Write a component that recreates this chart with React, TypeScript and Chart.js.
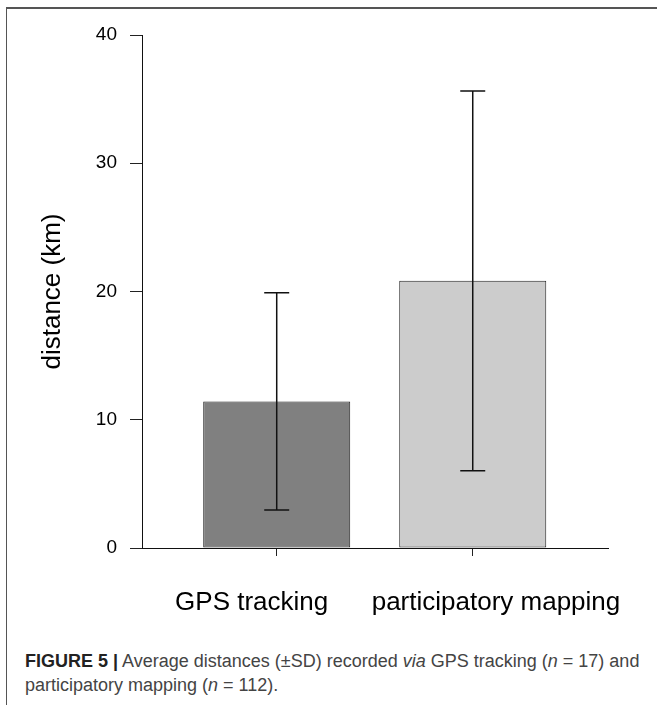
import React, { useEffect, useRef } from "react";
import { Chart, registerables } from "chart.js";

Chart.register(...registerables);

const categories: string[] = ["GPS tracking", "participatory mapping"];
const means: number[] = [11.43, 20.83];
const sds: number[] = [8.47, 14.8];
const barColors: string[] = ["#808080", "#cccccc"];
const yTicks: number[] = [0, 10, 20, 30, 40];

const errorBarPlugin = {
  id: "errorBars",
  afterDatasetsDraw(chart: any) {
    const { ctx } = chart;
    const yScale = chart.scales.y;
    const meta = chart.getDatasetMeta(0);
    ctx.save();
    ctx.strokeStyle = "#111";
    ctx.lineWidth = 1.5;
    meta.data.forEach((el: any, i: number) => {
      const x = el.x;
      const yHi = yScale.getPixelForValue(means[i] + sds[i]);
      const yLo = yScale.getPixelForValue(means[i] - sds[i]);
      const cap = 12.5;
      ctx.beginPath();
      ctx.moveTo(x, yHi);
      ctx.lineTo(x, yLo);
      ctx.moveTo(x - cap, yHi);
      ctx.lineTo(x + cap, yHi);
      ctx.moveTo(x - cap, yLo);
      ctx.lineTo(x + cap, yLo);
      ctx.stroke();
    });
    ctx.restore();
  },
};

export default function App() {
  const ref = useRef<HTMLCanvasElement | null>(null);

  useEffect(() => {
    if (!ref.current) return;
    const setTicks = (scale: any) => {
      scale.ticks = categories.map((_, i) => ({ value: i + 1 }));
    };
    const chart = new Chart(ref.current, {
      type: "bar",
      data: {
        datasets: [
          {
            xAxisID: "x",
            yAxisID: "y",
            data: categories.map((_, i) => ({ x: i + 1, y: means[i] })),
            backgroundColor: barColors,
            borderColor: "#222",
            borderWidth: 1,
            borderSkipped: false,
            categoryPercentage: 1,
            barPercentage: 0.75,
          },
        ],
      },
      options: {
        responsive: false,
        animation: false,
        events: [],
        layout: { padding: { top: 35, right: 49, left: 0, bottom: 0 } },
        plugins: {
          legend: { display: false },
          tooltip: { enabled: false },
        },
        scales: {
          x: {
            type: "linear",
            position: "bottom",
            weight: 1,
            offset: false,
            min: 0.3128,
            max: 2.69,
            afterBuildTicks: setTicks,
            afterFit: (s: any) => {
              s.height = 8;
            },
            ticks: { display: false },
            grid: {
              offset: false,
              drawOnChartArea: false,
              drawTicks: true,
              tickLength: 8,
              color: "#222",
              lineWidth: 1,
            },
            border: { display: true, color: "#111", width: 1 },
          },
          xl: {
            type: "linear",
            position: "bottom",
            weight: 2,
            offset: false,
            min: 0.551,
            max: 2.4585,
            afterBuildTicks: setTicks,
            afterFit: (s: any) => {
              s.height = 84;
            },
            ticks: {
              autoSkip: false,
              maxRotation: 0,
              padding: 23,
              color: "#000",
              font: { family: "'Liberation Sans', Arial, sans-serif", size: 26 },
              callback: (v: any) => categories[Math.round(Number(v)) - 1] ?? "",
            },
            grid: { display: false, offset: false },
            border: { display: false },
          },
          y: {
            type: "linear",
            min: 0,
            max: 40,
            afterBuildTicks: (s: any) => {
              s.ticks = yTicks.map((v) => ({ value: v }));
            },
            afterFit: (s: any) => {
              s.width = 142;
            },
            ticks: {
              padding: 13,
              color: "#000",
              font: { family: "'Liberation Sans', Arial, sans-serif", size: 19 },
            },
            grid: {
              drawOnChartArea: false,
              drawTicks: true,
              tickLength: 12,
              color: "#222",
              lineWidth: 1,
            },
            border: { display: true, color: "#111", width: 1 },
            title: {
              display: true,
              text: "distance (km)",
              color: "#000",
              padding: { top: 37, bottom: 0 },
              font: { family: "'Liberation Sans', Arial, sans-serif", size: 26 },
            },
          },
        },
      },
      plugins: [errorBarPlugin],
    });
    return () => chart.destroy();
  }, []);

  return (
    <div style={{ position: "absolute", left: 0, top: 0, width: 657, height: 705, background: "#fff", overflow: "hidden" }}>
      <div
        style={{
          position: "absolute",
          left: 6,
          top: 7,
          right: 0,
          bottom: 0,
          borderTop: "2px solid #555",
          borderLeft: "1px solid #555",
        }}
      />
      <canvas ref={ref} width={657} height={640} style={{ position: "absolute", left: 0, top: 0 }} />
      <div
        style={{
          position: "absolute",
          left: 25,
          top: 649,
          whiteSpace: "nowrap",
          fontFamily: "'Liberation Sans', Arial, sans-serif",
          fontSize: 18,
          lineHeight: "24px",
          color: "#444",
        }}
      >
        <b style={{ color: "#222" }}>FIGURE 5 |</b> Average distances (±SD) recorded <i>via</i> GPS tracking (<i>n</i> = 17) and
        <br />
        participatory mapping (<i>n</i> = 112).
      </div>
    </div>
  );
}
